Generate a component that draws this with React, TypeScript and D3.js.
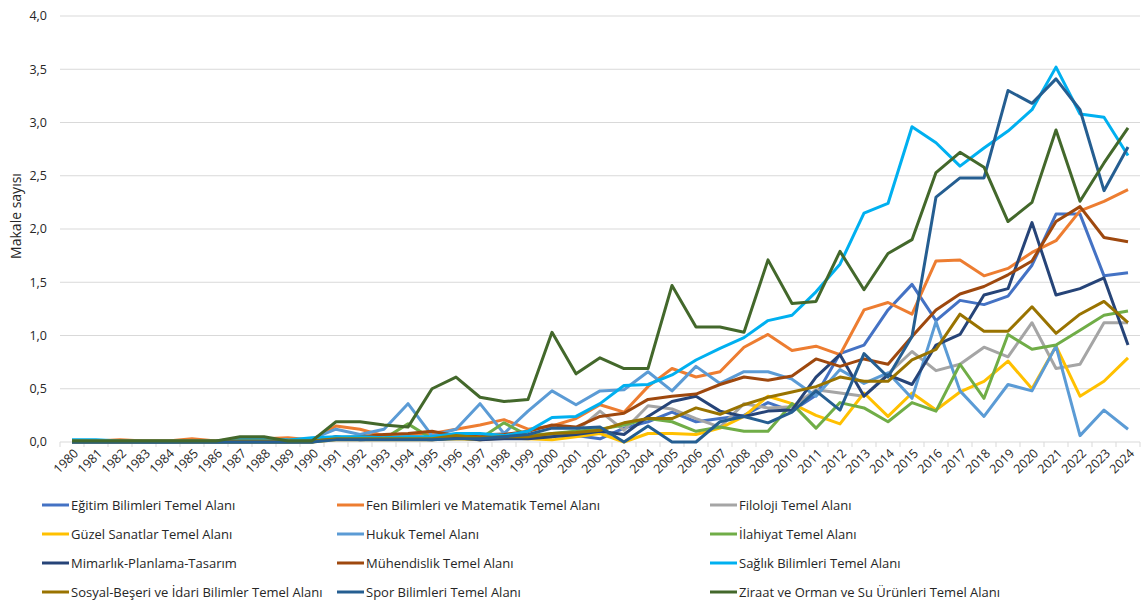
import { useEffect, useRef } from "react";
import * as d3 from "d3";

const years = d3.range(1980, 2025).map(String);

const seriesNames = [
  "Eğitim Bilimleri Temel Alanı",
  "Fen Bilimleri ve Matematik Temel Alanı",
  "Filoloji Temel Alanı",
  "Güzel Sanatlar Temel Alanı",
  "Hukuk Temel Alanı",
  "İlahiyat Temel Alanı",
  "Mimarlık-Planlama-Tasarım",
  "Mühendislik Temel Alanı",
  "Sağlık Bilimleri Temel Alanı",
  "Sosyal-Beşeri ve İdari Bilimler Temel Alanı",
  "Spor Bilimleri Temel Alanı",
  "Ziraat ve Orman ve Su Ürünleri Temel Alanı",
];

const colors = [
  "#4472C4", "#ED7D31", "#A5A5A5", "#FFC000", "#5B9BD5", "#70AD47",
  "#264478", "#9E480E", "#00B0F0", "#997300", "#255E91", "#43682B",
];

// 1980 .. 2024
const egitim = [0, 0, 0, 0, 0, 0, 0, 0.01, 0.01, 0, 0.01, 0.03, 0.03, 0.05, 0.03, 0.03, 0.04, 0.02, 0.05, 0.06, 0.06, 0.06, 0.03, 0.13, 0.19, 0.28, 0.19, 0.22, 0.25, 0.37, 0.29, 0.44, 0.83, 0.91, 1.24, 1.48, 1.14, 1.33, 1.29, 1.37, 1.66, 2.14, 2.14, 1.56, 1.59];
const fen = [0.01, 0.01, 0.02, 0.01, 0.01, 0.03, 0.01, 0.03, 0.03, 0.04, 0.02, 0.15, 0.12, 0.06, 0.07, 0.08, 0.12, 0.16, 0.21, 0.12, 0.15, 0.22, 0.35, 0.28, 0.52, 0.69, 0.61, 0.66, 0.89, 1.01, 0.86, 0.9, 0.82, 1.24, 1.31, 1.2, 1.7, 1.71, 1.56, 1.63, 1.78, 1.89, 2.17, 2.26, 2.37];
const filoloji = [0, 0, 0, 0, 0, 0, 0, 0, 0.01, 0, 0, 0.05, 0.04, 0.04, 0.05, 0.04, 0.05, 0.06, 0.08, 0.06, 0.07, 0.1, 0.29, 0.11, 0.34, 0.31, 0.22, 0.14, 0.36, 0.32, 0.33, 0.49, 0.46, 0.43, 0.64, 0.85, 0.67, 0.73, 0.89, 0.8, 1.12, 0.69, 0.73, 1.12, 1.12];
const guzel = [0, 0, 0, 0, 0, 0, 0, 0, 0, 0, 0, 0.02, 0.02, 0.02, 0.02, 0.02, 0.03, 0.02, 0.04, 0.03, 0.02, 0.05, 0.08, 0, 0.08, 0.08, 0.07, 0.13, 0.24, 0.43, 0.36, 0.25, 0.17, 0.46, 0.24, 0.46, 0.3, 0.47, 0.57, 0.76, 0.5, 0.9, 0.43, 0.57, 0.79];
const hukuk = [0.01, 0.01, 0.01, 0, 0, 0.01, 0, 0.01, 0.01, 0.01, 0.03, 0.12, 0.07, 0.12, 0.36, 0.06, 0.12, 0.36, 0.08, 0.29, 0.48, 0.35, 0.48, 0.49, 0.66, 0.48, 0.71, 0.55, 0.66, 0.66, 0.59, 0.43, 0.68, 0.55, 0.65, 0.41, 1.13, 0.48, 0.24, 0.54, 0.48, 0.9, 0.06, 0.3, 0.12];
const ilahiyat = [0, 0, 0, 0, 0, 0, 0, 0, 0, 0, 0, 0.03, 0.03, 0.03, 0.17, 0.03, 0.05, 0.03, 0.18, 0.06, 0.08, 0.1, 0.12, 0.16, 0.22, 0.19, 0.1, 0.14, 0.1, 0.1, 0.36, 0.13, 0.37, 0.32, 0.19, 0.37, 0.29, 0.73, 0.41, 1.01, 0.87, 0.91, 1.05, 1.19, 1.23];
const mimarlik = [0, 0, 0, 0, 0, 0, 0, 0, 0, 0, 0, 0.05, 0.02, 0.03, 0.03, 0.02, 0.04, 0.02, 0.03, 0.03, 0.05, 0.07, 0.1, 0.07, 0.24, 0.38, 0.43, 0.29, 0.24, 0.29, 0.3, 0.61, 0.82, 0.43, 0.63, 0.54, 0.91, 1.01, 1.38, 1.44, 2.06, 1.38, 1.44, 1.54, 0.91];
const muhendislik = [0.01, 0.01, 0.01, 0.01, 0.01, 0.01, 0.01, 0.02, 0.02, 0.01, 0.01, 0.04, 0.05, 0.07, 0.08, 0.1, 0.06, 0.05, 0.07, 0.1, 0.16, 0.14, 0.24, 0.27, 0.4, 0.43, 0.45, 0.54, 0.61, 0.58, 0.62, 0.78, 0.71, 0.78, 0.73, 0.99, 1.24, 1.39, 1.46, 1.57, 1.7, 2.07, 2.21, 1.92, 1.88];
const saglik = [0.02, 0.02, 0.01, 0.01, 0.01, 0.01, 0.01, 0.02, 0.02, 0.02, 0.04, 0.05, 0.05, 0.04, 0.05, 0.05, 0.08, 0.08, 0.06, 0.1, 0.23, 0.24, 0.36, 0.53, 0.54, 0.63, 0.77, 0.88, 0.98, 1.14, 1.19, 1.41, 1.67, 2.15, 2.24, 2.96, 2.81, 2.59, 2.76, 2.92, 3.12, 3.52, 3.08, 3.05, 2.69];
const sosyal = [0.01, 0.01, 0.01, 0.01, 0.01, 0.01, 0.01, 0.01, 0.01, 0.01, 0.01, 0.03, 0.03, 0.03, 0.03, 0.03, 0.06, 0.04, 0.05, 0.05, 0.08, 0.09, 0.11, 0.18, 0.22, 0.22, 0.32, 0.26, 0.35, 0.42, 0.47, 0.52, 0.61, 0.57, 0.57, 0.77, 0.87, 1.2, 1.04, 1.04, 1.27, 1.02, 1.2, 1.32, 1.12];
const spor = [0, 0, 0, 0, 0, 0, 0, 0, 0, 0, 0, 0.02, 0.02, 0.02, 0.02, 0.02, 0.03, 0.03, 0.05, 0.07, 0.13, 0.13, 0.14, 0, 0.15, 0, 0, 0.19, 0.24, 0.18, 0.28, 0.48, 0.3, 0.83, 0.61, 0.99, 2.3, 2.48, 2.48, 3.3, 3.18, 3.41, 3.12, 2.36, 2.77];
const ziraat = [0.01, 0.01, 0.01, 0.01, 0.01, 0.01, 0.01, 0.05, 0.05, 0.01, 0.01, 0.19, 0.19, 0.16, 0.14, 0.5, 0.61, 0.42, 0.38, 0.4, 1.03, 0.64, 0.79, 0.69, 0.69, 1.47, 1.08, 1.08, 1.03, 1.71, 1.3, 1.32, 1.79, 1.43, 1.77, 1.9, 2.53, 2.72, 2.58, 2.07, 2.25, 2.93, 2.26, 2.62, 2.95];

const seriesValues = [egitim, fen, filoloji, guzel, hukuk, ilahiyat, mimarlik, muhendislik, saglik, sosyal, spor, ziraat];
const yTicks = [0, 0.5, 1, 1.5, 2, 2.5, 3, 3.5, 4];

const W = 1142;
const H = 602;
const FONT = "Open Sans, sans-serif";

export default function App() {
  const ref = useRef<SVGSVGElement>(null);

  useEffect(() => {
    const svg = d3.select(ref.current);
    svg.selectAll("*").remove();

    const x = d3.scaleBand().domain(years).range([60, 1140]);
    const y = d3.scaleLinear().domain([0, 4]).range([442, 16]);
    const cx = (d: string) => (x(d) as number) + x.bandwidth() / 2;

    // gridlines
    svg
      .append("g")
      .selectAll("line")
      .data(yTicks)
      .enter()
      .append("line")
      .attr("x1", 60)
      .attr("x2", 1140)
      .attr("y1", (d) => y(d))
      .attr("y2", (d) => y(d))
      .attr("stroke", "#D9D9D9")
      .attr("stroke-width", 1);

    // y labels
    svg
      .append("g")
      .selectAll("text")
      .data(yTicks)
      .enter()
      .append("text")
      .attr("x", 47)
      .attr("y", (d) => y(d))
      .attr("dy", "0.35em")
      .attr("text-anchor", "end")
      .attr("font-family", FONT)
      .attr("font-size", 12.5)
      .attr("fill", "#262626")
      .text((d) => d3.format(".1f")(d).replace(".", ","));

    svg
      .append("text")
      .attr("transform", "translate(21,216) rotate(-90)")
      .attr("text-anchor", "middle")
      .attr("font-family", FONT)
      .attr("font-size", 14)
      .attr("fill", "#262626")
      .text("Makale sayısı");

    // x tick marks between categories
    const bounds = years.map((d) => x(d) as number).concat([1140]);
    svg
      .append("g")
      .selectAll("line")
      .data(bounds)
      .enter()
      .append("line")
      .attr("x1", (d) => d)
      .attr("x2", (d) => d)
      .attr("y1", 442)
      .attr("y2", 447)
      .attr("stroke", "#D9D9D9");

    svg
      .append("g")
      .selectAll("text")
      .data(years)
      .enter()
      .append("text")
      .attr("transform", (d) => `translate(${cx(d) + 4},${451}) rotate(-45)`)
      .attr("text-anchor", "end")
      .attr("dy", "0.35em")
      .attr("font-family", FONT)
      .attr("font-size", 12.5)
      .attr("fill", "#262626")
      .text((d) => d);

    // lines
    const line = d3
      .line<number>()
      .x((_, i) => cx(years[i]))
      .y((d) => y(d));

    svg
      .append("g")
      .selectAll("path")
      .data(seriesValues)
      .enter()
      .append("path")
      .attr("d", (d) => line(d))
      .attr("fill", "none")
      .attr("stroke", (_, i) => colors[i])
      .attr("stroke-width", 3)
      .attr("stroke-linejoin", "round");

    // legend
    const colX = [42, 337, 710];
    const rowY = [505, 534, 563, 592];
    const legend = svg
      .append("g")
      .selectAll("g")
      .data(seriesNames)
      .enter()
      .append("g")
      .attr("transform", (_, i) => `translate(${colX[i % 3]},${rowY[Math.floor(i / 3)]})`);
    legend
      .append("line")
      .attr("x1", 0)
      .attr("x2", 27)
      .attr("stroke", (_, i) => colors[i])
      .attr("stroke-width", 3);
    legend
      .append("text")
      .attr("x", 29)
      .attr("dy", "0.35em")
      .attr("font-family", FONT)
      .attr("font-size", 13)
      .attr("fill", "#262626")
      .text((d) => d);
  }, []);

  return (
    <svg
      ref={ref}
      width={W}
      height={H}
      style={{ position: "absolute", left: 0, top: 0, background: "#fff" }}
    />
  );
}
